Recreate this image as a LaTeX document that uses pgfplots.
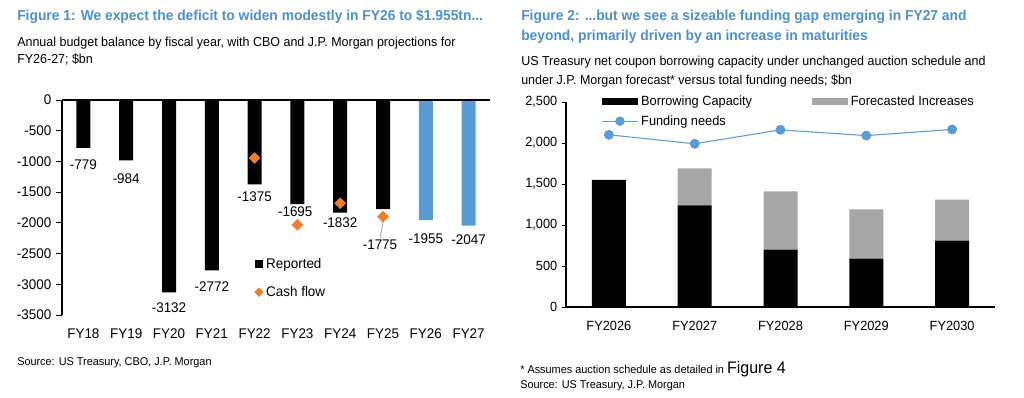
\documentclass[border=0pt]{standalone}
\usepackage{pgfplots}
\pgfplotsset{compat=1.18}
\usepackage{fontspec}
\setmainfont{Liberation Sans}[FakeStretch=0.96]
\definecolor{jpblue}{RGB}{79,143,201}
\definecolor{barblue}{RGB}{91,155,213}
\definecolor{cforange}{RGB}{237,125,49}
\definecolor{fgray}{RGB}{166,166,166}
\newcommand\lf{\fontsize{10.5}{12}\selectfont}
\newcommand\rf{\fontsize{10}{12}\selectfont}
\begin{document}
\begin{tikzpicture}
\begin{scope}[x=0.75pt,y=-0.75pt]
\path (0,0) rectangle (1024,398);
\node[anchor=base west, inner sep=0pt, font=\fontsize{10.8}{12}\selectfont\bfseries, text=jpblue] at (17,21) {Figure 1: We expect the deficit to widen modestly in FY26 to \$1.955tn...};
\node[anchor=base west, inner sep=0pt, font=\fontsize{9.75}{12}\selectfont] at (17,46.5) {Annual budget balance by fiscal year, with CBO and J.P. Morgan projections for};
\node[anchor=base west, inner sep=0pt, font=\fontsize{9.75}{12}\selectfont] at (17,63.5) {FY26-27; \$bn};
\node[anchor=base west, inner sep=0pt, font=\fontsize{8.5}{10}\selectfont] at (17,366) {Source: US Treasury, CBO, J.P. Morgan};
\node[anchor=base west, inner sep=0pt, font=\fontsize{10.8}{12}\selectfont\bfseries, text=jpblue] at (521,21) {Figure 2: ...but we see a sizeable funding gap emerging in FY27 and};
\node[anchor=base west, inner sep=0pt, font=\fontsize{10.8}{12}\selectfont\bfseries, text=jpblue] at (521,41) {beyond, primarily driven by an increase in maturities};
\node[anchor=base west, inner sep=0pt, font=\fontsize{9.75}{12}\selectfont] at (521,65.5) {US Treasury net coupon borrowing capacity under unchanged auction schedule and};
\node[anchor=base west, inner sep=0pt, font=\fontsize{9.75}{12}\selectfont] at (521,84.5) {under J.P. Morgan forecast* versus total funding needs; \$bn};
\node[anchor=base west, inner sep=0pt, font=\fontsize{8.5}{10}\selectfont] at (520,374) {* Assumes auction schedule as detailed in {\fontsize{12.5}{14}\selectfont Figure 4}};
\node[anchor=base west, inner sep=0pt, font=\fontsize{8.5}{10}\selectfont] at (520,389) {Source: US Treasury, J.P. Morgan};
\end{scope}

\begin{axis}[
  at={(46.5pt,-236.25pt)}, anchor=south west, scale only axis,
  width=321pt, height=161.25pt,
  xmin=-0.5, xmax=9.5, ymin=-3500, ymax=0,
  ytick={-3500,-3000,...,0},
  xtick={0,...,9},
  xticklabels={FY18,FY19,FY20,FY21,FY22,FY23,FY24,FY25,FY26,FY27},
  axis y line*=left, axis x line*=bottom,
  axis line style={black, line width=0.8pt, -},
  x axis line style={draw=none},
  xtick style={draw=none},
  ytick style={black, line width=0.6pt},
  tick align=outside, major tick length=4.5pt,
  tick label style={font=\lf, text=black},
  /pgf/number format/assume math mode=true,
  /pgf/number format/1000 sep={},
  xticklabel style={yshift=-2pt},
  clip=false,
  legend style={at={(0.449,0.279)}, anchor=north west, draw=none, fill=none, font=\lf, row sep=8pt, inner sep=0pt},
  legend cell align=left,
]
\addplot[ybar, bar width=10.5pt, bar shift=0pt, fill=black, draw=none,
  legend image code/.code={\fill[black] (0pt,-3.2pt) rectangle (6.4pt,3.2pt);}]
  coordinates {(0,-779) (1,-984) (2,-3132) (3,-2772) (4,-1375) (5,-1695) (6,-1832) (7,-1775)};
\addlegendentry{Reported}
\addplot[ybar, bar width=10.5pt, bar shift=0pt, fill=barblue, draw=none, forget plot]
  coordinates {(8,-1955) (9,-2047)};
\draw[gray!80, line width=0.6pt] (axis cs:7.03,-1880) -- (axis cs:6.93,-2250);
\addplot[only marks, mark=square*, mark size=2.9pt, mark options={rotate=45, fill=cforange, draw=cforange},
  legend image code/.code={\fill[cforange] (0pt,0pt) -- (3.2pt,3.2pt) -- (6.4pt,0pt) -- (3.2pt,-3.2pt) -- cycle;}]
  coordinates {(4,-945) (5,-2030) (6,-1680) (7,-1900)};
\addlegendentry{Cash flow}
\draw[black, line width=0.8pt] (axis cs:-0.5,0) -- (axis cs:9.5,0);
\node[font=\lf] at (axis cs:0,-1059) {-779};
\node[font=\lf] at (axis cs:1,-1287) {-984};
\node[font=\lf] at (axis cs:2,-3388) {-3132};
\node[font=\lf] at (axis cs:3,-3046) {-2772};
\node[font=\lf] at (axis cs:4,-1580) {-1375};
\node[font=\lf] at (axis cs:4.95,-1824) {-1695};
\node[font=\lf] at (axis cs:6,-2003) {-1832};
\node[font=\lf] at (axis cs:6.93,-2362) {-1775};
\node[font=\lf] at (axis cs:8,-2264) {-1955};
\node[font=\lf] at (axis cs:9,-2280) {-2047};
\end{axis}

\begin{axis}[
  at={(424.5pt,-230.25pt)}, anchor=south west, scale only axis,
  width=321.75pt, height=153.75pt,
  xmin=-0.5, xmax=4.5, ymin=0, ymax=2500,
  ytick={0,500,...,2500},
  xtick={0,...,4}, xticklabels={FY2026,FY2027,FY2028,FY2029,FY2030},
  axis x line*=bottom, axis y line*=left,
  axis line style={black, line width=0.8pt, -},
  xtick style={draw=none}, ytick style={black, line width=0.6pt},
  tick align=outside, major tick length=3pt,
  tick label style={font=\rf, text=black},
  /pgf/number format/assume math mode=true,
  /pgf/number format/1000 sep={,},
  xticklabel style={yshift=-4pt},
  ybar stacked, bar width=25.5pt,
  legend columns=2,
  legend style={at={(0.082,1.045)}, anchor=north west, draw=none, fill=none, font=\rf, row sep=2pt, inner sep=0pt,
    /tikz/every even column/.append style={column sep=43pt}},
  legend cell align=left,
]
\addplot[fill=black, draw=none,
  legend image code/.code={\fill[black] (0pt,-2.7pt) rectangle (27pt,2.7pt);}]
  coordinates {(0,1550) (1,1240) (2,700) (3,590) (4,810)};
\addlegendentry{Borrowing Capacity}
\addplot[fill=fgray, draw=none,
  legend image code/.code={\fill[fgray] (0pt,-2.7pt) rectangle (27pt,2.7pt);}]
  coordinates {(0,0) (1,450) (2,710) (3,600) (4,500)};
\addlegendentry{Forecasted Increases}
\addlegendimage{legend image code/.code={\draw[barblue, line width=0.8pt] (0pt,0pt) -- (27pt,0pt); \fill[barblue] (13.5pt,0pt) circle (3.3pt);}}
\addlegendentry{Funding needs}
\end{axis}

\begin{axis}[
  at={(424.5pt,-230.25pt)}, anchor=south west, scale only axis,
  width=321.75pt, height=153.75pt,
  xmin=-0.5, xmax=4.5, ymin=0, ymax=2500,
  hide axis, clip=false,
]
\addplot[barblue, line width=0.8pt, mark=*, mark size=3.3pt, mark options={fill=barblue, draw=barblue}]
  coordinates {(0,2100) (1,1990) (2,2160) (3,2090) (4,2165)};
\end{axis}
\end{tikzpicture}
\end{document}
